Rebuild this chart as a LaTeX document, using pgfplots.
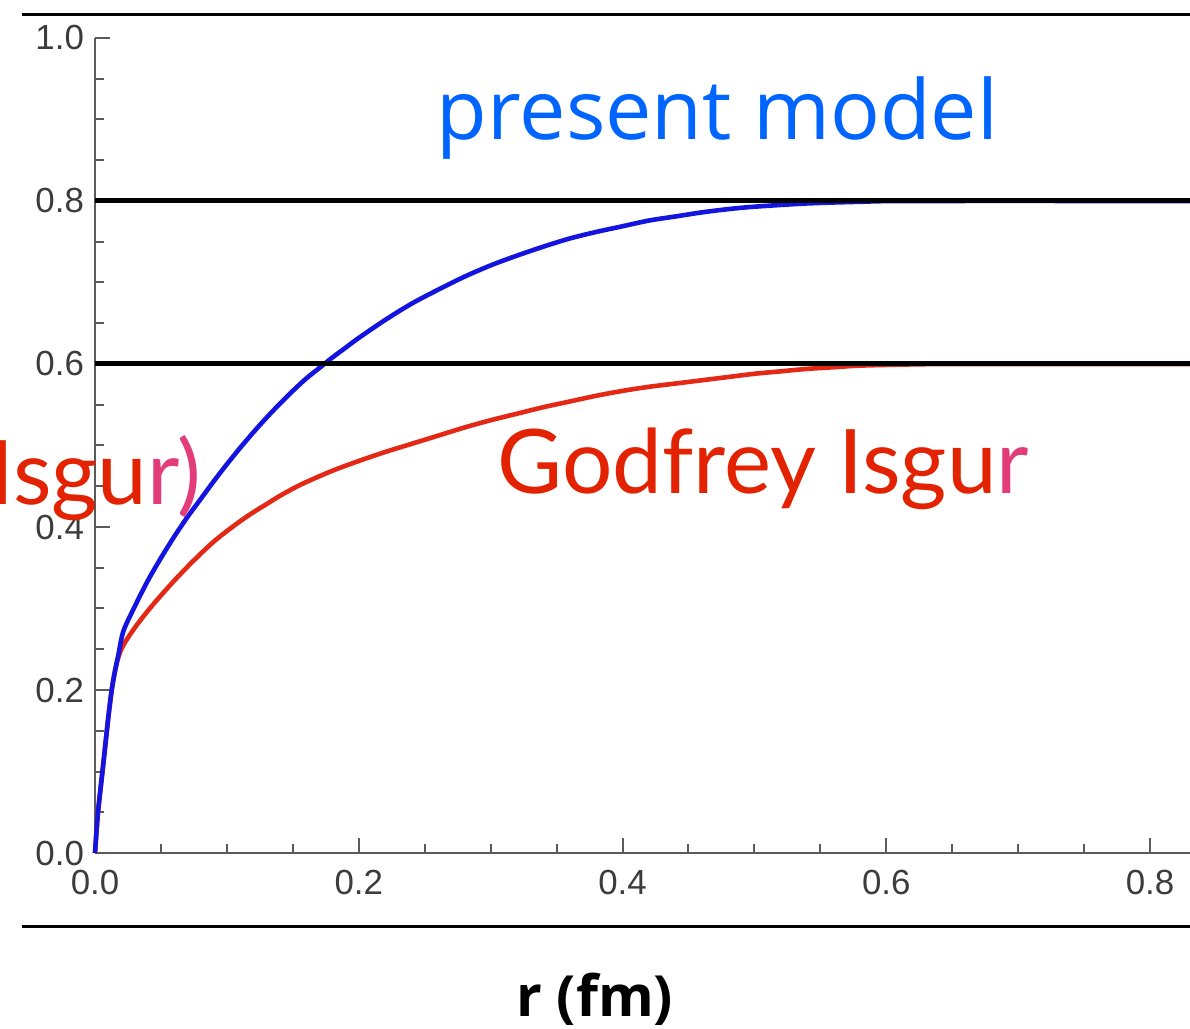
\documentclass[border=0pt]{standalone}
\usepackage{pgfplots}
\pgfplotsset{compat=1.18}
\usepackage{fontspec}
\setmainfont{Liberation Sans}
\newfontfamily\tickfont{Liberation Sans}
\newfontfamily\openfont{Open Sans}
\newfontfamily\latofont{Lato}
\definecolor{curveblue}{RGB}{20,20,225}
\definecolor{curvered}{RGB}{228,40,22}
\definecolor{txtblue}{RGB}{0,100,255}
\definecolor{txtred}{RGB}{226,34,0}
\definecolor{txtpink}{RGB}{226,60,122}
\definecolor{axgray}{RGB}{90,90,90}
\definecolor{labgray}{RGB}{60,60,60}
\begin{document}
\begin{tikzpicture}
\begin{axis}[
  name=ax,
  scale only axis,
  width=547.5bp, height=407.5bp,
  xmin=0, xmax=0.8303, ymin=0, ymax=1,
  axis x line=bottom, axis y line=left,
  axis line style={-, axgray, line width=1.3bp},
  tick align=inside,
  xtick={0,0.2,0.4,0.6,0.8},
  xticklabels={0.0,0.2,0.4,0.6,0.8},
  ytick={0,0.2,0.4,0.6,0.8,1.0},
  yticklabels={0.0,0.2,0.4,0.6,0.8,1.0},
  minor tick num=3,
  major tick length=7.5bp, minor tick length=4.5bp,
  every tick/.style={axgray, line width=1bp},
  ticklabel style={font=\tickfont\fontsize{17.5}{17.5}\selectfont, text=labgray},
  xticklabel style={yshift=-5bp},
  yticklabel style={xshift=-2bp},
  clip=false,
]
% decorative slide rules
\draw[black, line width=1.5bp] (axis cs:-0.0554,1.0294) -- (axis cs:0.8303,1.0294);
\draw[black, line width=1.5bp] (axis cs:-0.0554,-0.0896) -- (axis cs:0.8303,-0.0896);

\addplot[curvered, line width=2.3bp, smooth] coordinates {
(0,0) (0.002,0.045) (0.004,0.076) (0.006,0.105) (0.008,0.135) (0.010,0.165)
(0.0125,0.198) (0.015,0.222) (0.0177,0.240) (0.0215,0.255) (0.030,0.276)
(0.040,0.297) (0.050,0.316) (0.060,0.334) (0.070,0.351) (0.080,0.367)
(0.090,0.382) (0.100,0.395) (0.110,0.407) (0.120,0.418) (0.130,0.428)
(0.140,0.438) (0.150,0.447) (0.160,0.455) (0.180,0.469) (0.200,0.481)
(0.220,0.492) (0.240,0.502) (0.260,0.512) (0.280,0.522) (0.300,0.531)
(0.320,0.539) (0.340,0.547) (0.360,0.554) (0.380,0.561) (0.400,0.567)
(0.420,0.572) (0.440,0.576) (0.460,0.580) (0.480,0.584) (0.500,0.588)
(0.520,0.591) (0.540,0.594) (0.560,0.596) (0.580,0.598) (0.620,0.5995)
(0.660,0.600) (0.8303,0.600)
};
\addplot[curveblue, line width=2.3bp, smooth] coordinates {
(0,0) (0.002,0.045) (0.004,0.076) (0.006,0.105) (0.008,0.135) (0.010,0.165)
(0.0125,0.198) (0.015,0.222) (0.0177,0.243) (0.0215,0.272) (0.030,0.302)
(0.040,0.334) (0.050,0.362) (0.060,0.388) (0.070,0.412) (0.080,0.434)
(0.090,0.456) (0.100,0.477) (0.110,0.497) (0.120,0.516) (0.130,0.534)
(0.140,0.551) (0.150,0.567) (0.160,0.582) (0.170,0.595) (0.180,0.608)
(0.190,0.620) (0.200,0.632) (0.220,0.654) (0.240,0.674) (0.260,0.691)
(0.280,0.707) (0.300,0.721) (0.320,0.733) (0.340,0.744) (0.360,0.754)
(0.380,0.762) (0.400,0.769) (0.420,0.776) (0.440,0.781) (0.460,0.786)
(0.480,0.790) (0.500,0.793) (0.540,0.797) (0.580,0.799) (0.620,0.800)
(0.8303,0.800)
};
\addplot[black, line width=2.5bp] coordinates {(0,0.8) (0.8303,0.8)};
\addplot[black, line width=2.5bp] coordinates {(0,0.6) (0.8303,0.6)};

\node[anchor=base west, inner sep=0pt, text=txtblue, font=\openfont\fontsize{41.5}{41.5}\selectfont]
  at (axis cs:0.259,0.875) {present model};
\node[anchor=base west, inner sep=0pt, font=\latofont\fontsize{44.7}{44.7}\selectfont]
  at (axis cs:0.3048,0.4417) {\textcolor{txtred}{Godfrey Isgu}\textcolor{txtpink}{r}};
\node[anchor=base east, inner sep=0pt, font=\latofont\fontsize{44.7}{44.7}\selectfont]
  at (axis cs:0.0811,0.428) {\textcolor{txtred}{Isgu}\textcolor{txtpink}{r)}};
\node[anchor=base, inner sep=0pt, font=\openfont\bfseries\fontsize{28.5}{28.5}\selectfont]
  at (axis cs:0.379,-0.2012) {r (fm)};
\end{axis}
\pgfresetboundingbox
\path[use as bounding box] (ax.south west) ++(-47.5bp,-88bp) rectangle ++(595bp,514.5bp);
\end{tikzpicture}
\end{document}
